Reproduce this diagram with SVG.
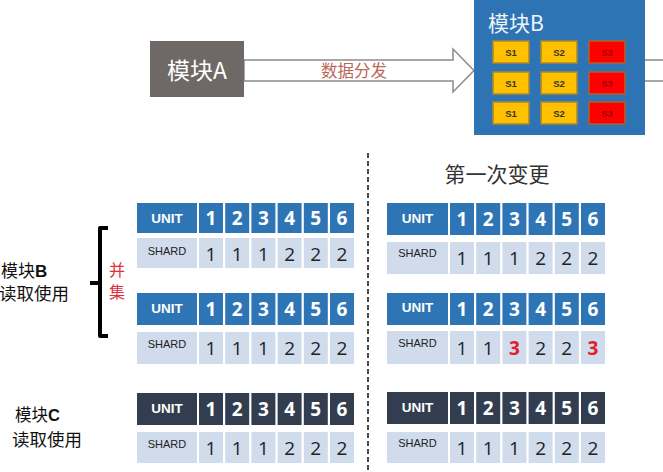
<svg xmlns="http://www.w3.org/2000/svg" width="663" height="472" viewBox="0 0 663 472">
<style>
.cjk{font-family:"Noto Sans CJK SC","Noto Sans",sans-serif}
.lat{font-family:"Liberation Sans","Noto Sans CJK SC",sans-serif}
.hb{fill:#2e75b6}
.hd{fill:#323e4f}
.sh{fill:#d0dbeb}
.ut{font-family:"Liberation Sans",sans-serif;font-weight:bold;font-size:13.5px;fill:#fff;text-anchor:middle}
.hn{font-family:"Open Sans","Liberation Sans",sans-serif;font-weight:bold;font-size:19px;fill:#fff;text-anchor:middle}
.st{font-family:"Liberation Sans",sans-serif;font-size:11px;fill:#222;text-anchor:middle}
.sn{font-family:"Open Sans","Liberation Sans",sans-serif;font-size:19px;fill:#222;text-anchor:middle}
.red{fill:#e0202e;font-weight:bold}
.sy{fill:#ffc000;stroke:#a8882c;stroke-width:1.5}
.sr{fill:#ff0000;stroke:#b0602a;stroke-width:1.5}
.sl{font-family:"Liberation Sans",sans-serif;font-weight:bold;font-size:9.5px;fill:#333;text-anchor:middle}
.sl3{font-family:"Liberation Sans",sans-serif;font-weight:bold;font-size:9.5px;fill:#a00000;text-anchor:middle}
</style>
<rect width="663" height="472" fill="#fff"/>

<g id="connectors">
<polygon points="244,60 453,60 453,49 474,70.5 453,92 453,81 244,81" fill="#fff" stroke="#8a8a8a" stroke-width="1.5"/>
<line x1="645" y1="60" x2="663" y2="60" stroke="#8a8a8a" stroke-width="1.5"/>
<line x1="645" y1="81" x2="663" y2="81" stroke="#8a8a8a" stroke-width="1.5"/>
<text x="354" y="77" class="cjk" font-size="16.5" fill="#b9685a" text-anchor="middle">数据分发</text>
<line x1="368" y1="153" x2="368" y2="472" stroke="#111" stroke-width="1.5" stroke-dasharray="5,3"/>
</g>

<g id="moduleA">
<rect x="150" y="41" width="94" height="56" fill="#6e6866"/>
<text x="197" y="79" class="cjk" font-size="23" fill="#fff" text-anchor="middle">模块A</text>
</g>

<g id="moduleB">
<rect x="474" y="0" width="171" height="135" fill="#2e74b5"/>
<text x="488" y="31" class="cjk" font-size="21" fill="#eef4fa">模块B</text>
<rect x="493" y="41" width="36" height="22" class="sy"/><text x="511" y="56" class="sl">S1</text>
<rect x="541" y="41" width="36" height="22" class="sy"/><text x="559" y="56" class="sl">S2</text>
<rect x="589" y="41" width="36" height="22" class="sr"/><text x="607" y="56" class="sl3">S3</text>
<rect x="493" y="72" width="36" height="22" class="sy"/><text x="511" y="87" class="sl">S1</text>
<rect x="541" y="72" width="36" height="22" class="sy"/><text x="559" y="87" class="sl">S2</text>
<rect x="589" y="72" width="36" height="22" class="sr"/><text x="607" y="87" class="sl3">S3</text>
<rect x="493" y="102" width="36" height="22" class="sy"/><text x="511" y="117" class="sl">S1</text>
<rect x="541" y="102" width="36" height="22" class="sy"/><text x="559" y="117" class="sl">S2</text>
<rect x="589" y="102" width="36" height="22" class="sr"/><text x="607" y="117" class="sl3">S3</text>
</g>

<g id="title">
<text x="497" y="182" class="cjk" font-size="21" fill="#333" text-anchor="middle">第一次变更</text>
</g>

<g id="label-b">
<text x="1" y="277" class="cjk" font-size="17" fill="#111">模块<tspan class="lat" font-weight="bold">B</tspan></text>
<text x="-1" y="300" class="cjk" font-size="17.5" fill="#111">读取使用</text>
<path d="M108,228 L100,228 L100,336 L108,336" fill="none" stroke="#000" stroke-width="4" stroke-linejoin="round"/>
<line x1="90" y1="283" x2="100" y2="283" stroke="#000" stroke-width="4"/>
<text x="117" y="276" class="cjk" font-size="16" fill="#e0303a" text-anchor="middle">并</text>
<text x="117" y="298" class="cjk" font-size="16" fill="#e0303a" text-anchor="middle">集</text>
</g>

<g id="label-c">
<text x="15" y="421" class="cjk" font-size="16.5" fill="#111">模块<tspan class="lat" font-weight="bold">C</tspan></text>
<text x="12" y="446" class="cjk" font-size="17.5" fill="#111">读取使用</text>
</g>

<g id="table-l1">
<rect x="137" y="203" width="60" height="30" class="hb"/><text x="167" y="223" class="ut">UNIT</text>
<rect x="199" y="203" width="24" height="30" class="hb"/><text x="211" y="225" class="hn">1</text>
<rect x="225.2" y="203" width="24" height="30" class="hb"/><text x="237.2" y="225" class="hn">2</text>
<rect x="251.4" y="203" width="24" height="30" class="hb"/><text x="263.4" y="225" class="hn">3</text>
<rect x="277.6" y="203" width="24" height="30" class="hb"/><text x="289.6" y="225" class="hn">4</text>
<rect x="303.8" y="203" width="24" height="30" class="hb"/><text x="315.8" y="225" class="hn">5</text>
<rect x="330" y="203" width="24" height="30" class="hb"/><text x="342" y="225" class="hn">6</text>
<rect x="137" y="238" width="60" height="30" class="sh"/><text x="167" y="255" class="st">SHARD</text>
<rect x="199" y="238" width="24" height="30" class="sh"/><text x="211" y="261" class="sn">1</text>
<rect x="225.2" y="238" width="24" height="30" class="sh"/><text x="237.2" y="261" class="sn">1</text>
<rect x="251.4" y="238" width="24" height="30" class="sh"/><text x="263.4" y="261" class="sn">1</text>
<rect x="277.6" y="238" width="24" height="30" class="sh"/><text x="289.6" y="261" class="sn">2</text>
<rect x="303.8" y="238" width="24" height="30" class="sh"/><text x="315.8" y="261" class="sn">2</text>
<rect x="330" y="238" width="24" height="30" class="sh"/><text x="342" y="261" class="sn">2</text>
</g>

<g id="table-l2">
<rect x="137" y="293" width="60" height="32" class="hb"/><text x="167" y="313" class="ut">UNIT</text>
<rect x="199" y="293" width="24" height="32" class="hb"/><text x="211" y="316" class="hn">1</text>
<rect x="225.2" y="293" width="24" height="32" class="hb"/><text x="237.2" y="316" class="hn">2</text>
<rect x="251.4" y="293" width="24" height="32" class="hb"/><text x="263.4" y="316" class="hn">3</text>
<rect x="277.6" y="293" width="24" height="32" class="hb"/><text x="289.6" y="316" class="hn">4</text>
<rect x="303.8" y="293" width="24" height="32" class="hb"/><text x="315.8" y="316" class="hn">5</text>
<rect x="330" y="293" width="24" height="32" class="hb"/><text x="342" y="316" class="hn">6</text>
<rect x="137" y="332" width="60" height="32" class="sh"/><text x="167" y="348" class="st">SHARD</text>
<rect x="199" y="332" width="24" height="32" class="sh"/><text x="211" y="355" class="sn">1</text>
<rect x="225.2" y="332" width="24" height="32" class="sh"/><text x="237.2" y="355" class="sn">1</text>
<rect x="251.4" y="332" width="24" height="32" class="sh"/><text x="263.4" y="355" class="sn">1</text>
<rect x="277.6" y="332" width="24" height="32" class="sh"/><text x="289.6" y="355" class="sn">2</text>
<rect x="303.8" y="332" width="24" height="32" class="sh"/><text x="315.8" y="355" class="sn">2</text>
<rect x="330" y="332" width="24" height="32" class="sh"/><text x="342" y="355" class="sn">2</text>
</g>

<g id="table-l3">
<rect x="137" y="393" width="60" height="32" class="hd"/><text x="167" y="413" class="ut">UNIT</text>
<rect x="199" y="393" width="24" height="32" class="hd"/><text x="211" y="416" class="hn">1</text>
<rect x="225.2" y="393" width="24" height="32" class="hd"/><text x="237.2" y="416" class="hn">2</text>
<rect x="251.4" y="393" width="24" height="32" class="hd"/><text x="263.4" y="416" class="hn">3</text>
<rect x="277.6" y="393" width="24" height="32" class="hd"/><text x="289.6" y="416" class="hn">4</text>
<rect x="303.8" y="393" width="24" height="32" class="hd"/><text x="315.8" y="416" class="hn">5</text>
<rect x="330" y="393" width="24" height="32" class="hd"/><text x="342" y="416" class="hn">6</text>
<rect x="137" y="432" width="60" height="31" class="sh"/><text x="167" y="448" class="st">SHARD</text>
<rect x="199" y="432" width="24" height="31" class="sh"/><text x="211" y="455" class="sn">1</text>
<rect x="225.2" y="432" width="24" height="31" class="sh"/><text x="237.2" y="455" class="sn">1</text>
<rect x="251.4" y="432" width="24" height="31" class="sh"/><text x="263.4" y="455" class="sn">1</text>
<rect x="277.6" y="432" width="24" height="31" class="sh"/><text x="289.6" y="455" class="sn">2</text>
<rect x="303.8" y="432" width="24" height="31" class="sh"/><text x="315.8" y="455" class="sn">2</text>
<rect x="330" y="432" width="24" height="31" class="sh"/><text x="342" y="455" class="sn">2</text>
</g>

<g id="table-r1">
<rect x="387" y="203" width="61" height="32" class="hb"/><text x="417.5" y="223" class="ut">UNIT</text>
<rect x="450" y="203" width="24" height="32" class="hb"/><text x="462" y="226" class="hn">1</text>
<rect x="476.2" y="203" width="24" height="32" class="hb"/><text x="488.2" y="226" class="hn">2</text>
<rect x="502.4" y="203" width="24" height="32" class="hb"/><text x="514.4" y="226" class="hn">3</text>
<rect x="528.6" y="203" width="24" height="32" class="hb"/><text x="540.6" y="226" class="hn">4</text>
<rect x="554.8" y="203" width="24" height="32" class="hb"/><text x="566.8" y="226" class="hn">5</text>
<rect x="581" y="203" width="24" height="32" class="hb"/><text x="593" y="226" class="hn">6</text>
<rect x="387" y="242" width="61" height="32" class="sh"/><text x="417.5" y="257" class="st">SHARD</text>
<rect x="450" y="242" width="24" height="32" class="sh"/><text x="462" y="265" class="sn">1</text>
<rect x="476.2" y="242" width="24" height="32" class="sh"/><text x="488.2" y="265" class="sn">1</text>
<rect x="502.4" y="242" width="24" height="32" class="sh"/><text x="514.4" y="265" class="sn">1</text>
<rect x="528.6" y="242" width="24" height="32" class="sh"/><text x="540.6" y="265" class="sn">2</text>
<rect x="554.8" y="242" width="24" height="32" class="sh"/><text x="566.8" y="265" class="sn">2</text>
<rect x="581" y="242" width="24" height="32" class="sh"/><text x="593" y="265" class="sn">2</text>
</g>

<g id="table-r2">
<rect x="387" y="293" width="61" height="32" class="hb"/><text x="417.5" y="312" class="ut">UNIT</text>
<rect x="450" y="293" width="24" height="32" class="hb"/><text x="462" y="316" class="hn">1</text>
<rect x="476.2" y="293" width="24" height="32" class="hb"/><text x="488.2" y="316" class="hn">2</text>
<rect x="502.4" y="293" width="24" height="32" class="hb"/><text x="514.4" y="316" class="hn">3</text>
<rect x="528.6" y="293" width="24" height="32" class="hb"/><text x="540.6" y="316" class="hn">4</text>
<rect x="554.8" y="293" width="24" height="32" class="hb"/><text x="566.8" y="316" class="hn">5</text>
<rect x="581" y="293" width="24" height="32" class="hb"/><text x="593" y="316" class="hn">6</text>
<rect x="387" y="331" width="61" height="33" class="sh"/><text x="417.5" y="347" class="st">SHARD</text>
<rect x="450" y="331" width="24" height="33" class="sh"/><text x="462" y="355" class="sn">1</text>
<rect x="476.2" y="331" width="24" height="33" class="sh"/><text x="488.2" y="355" class="sn">1</text>
<rect x="502.4" y="331" width="24" height="33" class="sh"/><text x="514.4" y="355" class="sn red">3</text>
<rect x="528.6" y="331" width="24" height="33" class="sh"/><text x="540.6" y="355" class="sn">2</text>
<rect x="554.8" y="331" width="24" height="33" class="sh"/><text x="566.8" y="355" class="sn">2</text>
<rect x="581" y="331" width="24" height="33" class="sh"/><text x="593" y="355" class="sn red">3</text>
</g>

<g id="table-r3">
<rect x="387" y="392" width="61" height="32" class="hd"/><text x="417.5" y="412" class="ut">UNIT</text>
<rect x="450" y="392" width="24" height="32" class="hd"/><text x="462" y="415" class="hn">1</text>
<rect x="476.2" y="392" width="24" height="32" class="hd"/><text x="488.2" y="415" class="hn">2</text>
<rect x="502.4" y="392" width="24" height="32" class="hd"/><text x="514.4" y="415" class="hn">3</text>
<rect x="528.6" y="392" width="24" height="32" class="hd"/><text x="540.6" y="415" class="hn">4</text>
<rect x="554.8" y="392" width="24" height="32" class="hd"/><text x="566.8" y="415" class="hn">5</text>
<rect x="581" y="392" width="24" height="32" class="hd"/><text x="593" y="415" class="hn">6</text>
<rect x="387" y="432" width="61" height="31" class="sh"/><text x="417.5" y="447" class="st">SHARD</text>
<rect x="450" y="432" width="24" height="31" class="sh"/><text x="462" y="455" class="sn">1</text>
<rect x="476.2" y="432" width="24" height="31" class="sh"/><text x="488.2" y="455" class="sn">1</text>
<rect x="502.4" y="432" width="24" height="31" class="sh"/><text x="514.4" y="455" class="sn">1</text>
<rect x="528.6" y="432" width="24" height="31" class="sh"/><text x="540.6" y="455" class="sn">2</text>
<rect x="554.8" y="432" width="24" height="31" class="sh"/><text x="566.8" y="455" class="sn">2</text>
<rect x="581" y="432" width="24" height="31" class="sh"/><text x="593" y="455" class="sn">2</text>
</g>
</svg>
